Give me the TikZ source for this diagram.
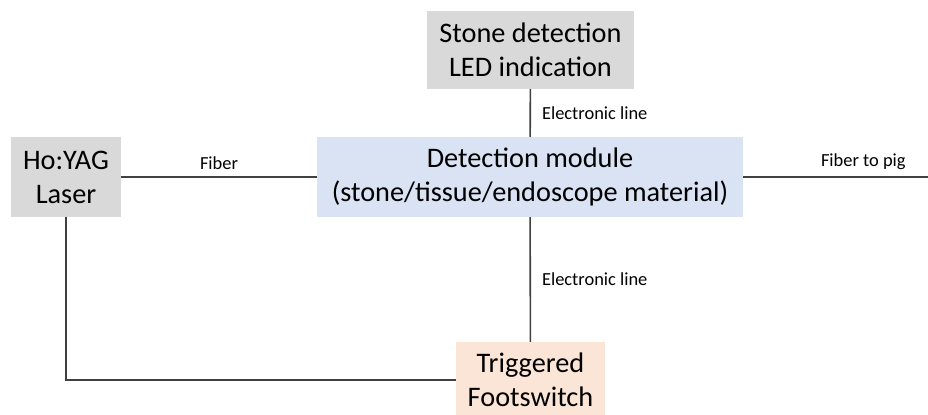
\documentclass[tikz,border=0pt]{standalone}
\usepackage{fontspec}
\setmainfont{Carlito}
\usepackage{tikz}
\usetikzlibrary{positioning}
\definecolor{boxgray}{RGB}{217,217,217}
\definecolor{boxblue}{RGB}{218,227,243}
\definecolor{boxpeach}{RGB}{251,229,214}
\definecolor{linegray}{RGB}{64,64,64}

\begin{document}
\begin{tikzpicture}[
    x=1bp, y=-1bp,
    box/.style={inner sep=0pt, align=center, font=\fontsize{28.4}{34}\selectfont},
    conn/.style={draw=linegray, line width=1.6bp},
    tag/.style={font=\fontsize{18.5}{22}\selectfont, inner sep=2bp}
]
    \useasboundingbox (0,0) rectangle (928,414);
    \clip (0,0) rectangle (928,414);

    \node[box, fill=boxgray, minimum width=207bp, minimum height=78bp] (stone) at (530.5,50) {Stone detection\\LED indication};
    \node[box, fill=boxgray, minimum width=110bp, minimum height=80bp] (laser) at (66,177) {Ho:YAG\\Laser};
    \node[box, fill=boxblue, minimum width=426bp, minimum height=80bp] (detect) at (530,177) {Detection module\\(stone/tissue/endoscope material)};
    \node[box, fill=boxpeach, minimum width=149bp, minimum height=76bp] (foot) at (530.5,380) {Triggered\\Footswitch};
    \coordinate (pig) at (928,177);

    \draw[conn] (stone) -- node[tag, midway, right, xshift=9bp] {Electronic line} (detect);
    \draw[conn] (laser) -- node[tag, midway, above=5bp] {Fiber} (detect);
    \draw[conn] (detect) -- node[tag, pos=0.65, above=5bp] {Fiber to pig} (pig);
    \draw[conn] (detect) -- node[tag, midway, right, xshift=9bp] {Electronic line} (foot);
    \draw[conn] (laser.south) |- (foot.west);
\end{tikzpicture}
\end{document}
